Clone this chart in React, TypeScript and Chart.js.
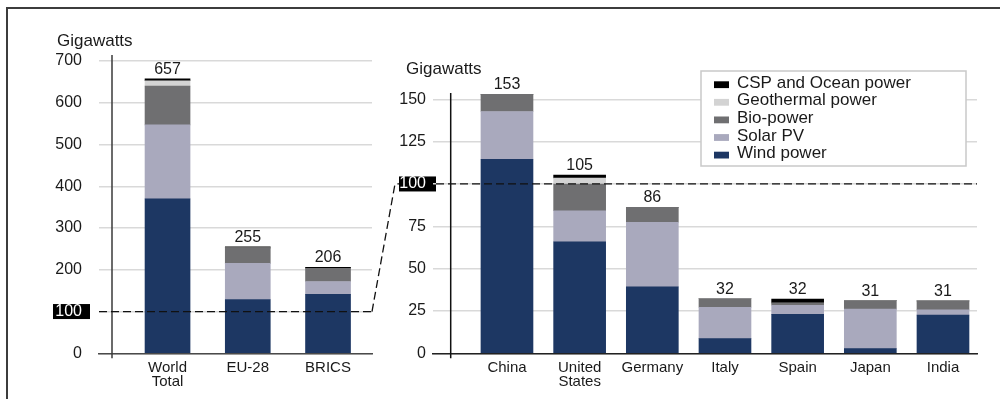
import React, { useEffect, useRef } from 'react';
import { Chart, registerables } from 'chart.js';

Chart.register(...registerables);

const FONT_FAMILY = "'Liberation Sans', Arial, Helvetica, sans-serif";
const TEXT_COLOR = '#1a1a1a';

// Capacity categories, bottom of each stack first
const seriesNames = ['Wind power', 'Solar PV', 'Bio-power', 'Geothermal power', 'CSP and Ocean power'];
const seriesColors = ['#1d3763', '#a9a9bd', '#6f6f71', '#d3d3d3', '#000000'];

// Left panel: world total and country groups (GW)
const groupLabels: (string | string[])[] = [['World', 'Total'], 'EU-28', 'BRICS'];
const groupWind = [370, 128.8, 141];
const groupSolar = [177, 86.7, 31];
const groupBio = [93, 36, 31.5];
const groupGeo = [12.8, 1, 0.1];
const groupCsp = [4.4, 2.5, 2.4];
const groupTicks = [0, 100, 200, 300, 400, 500, 600, 700];

// Right panel: top countries (GW)
const countryLabels: (string | string[])[] = ['China', ['United', 'States'], 'Germany', 'Italy', 'Spain', 'Japan', 'India'];
const countryWind = [114.6, 65.9, 39.2, 8.7, 23, 2.8, 22.5];
const countrySolar = [28.2, 18.3, 38.2, 18.5, 5.4, 23.3, 3.2];
const countryBio = [10.2, 15.8, 8.8, 5, 1.3, 5, 5.3];
const countryGeo = [0, 3.5, 0, 0, 0, 0, 0];
const countryCsp = [0, 1.7, 0, 0, 2.3, 0, 0];
const countryTicks = [0, 25, 50, 75, 100, 125, 150];

// Level shared by both panels, marked with a dashed line
const referenceLevel = 100;

type PanelLayout = {
  padTop: number;
  padRight: number;
  yWidth: number;
  xHeight: number;
  yMax: number;
  xMin: number;
  xMax: number;
  barThickness: number;
  tickPadding: number;
  axisOffset: number;
  axisTop: number;
  axisColor: string;
  baseColor: string;
  box: [number, number];
  dashFromBox: boolean;
  title: [number, number];
};

const leftLayout: PanelLayout = {
  padTop: 61,
  padRight: 628,
  yWidth: 99,
  xHeight: 45.7,
  yMax: 700,
  xMin: -0.854,
  xMax: 2.548,
  barThickness: 45,
  tickPadding: 17,
  axisOffset: 13,
  axisTop: 55,
  axisColor: '#3a3a3a',
  baseColor: '#4a4a4a',
  box: [53, 90],
  dashFromBox: false,
  title: [57, 41],
};

const rightLayout: PanelLayout = {
  padTop: 353.3 - 160 * (254 / 150),
  padRight: 23,
  yWidth: 433,
  xHeight: 45.7,
  yMax: 160,
  xMin: -1.018,
  xMax: 6.468,
  barThickness: 52,
  tickPadding: 7,
  axisOffset: 17.7,
  axisTop: 93,
  axisColor: '#111111',
  baseColor: '#222222',
  box: [399, 436],
  dashFromBox: true,
  title: [406, 69],
};

function makeDatasets(series: number[][], thickness: number) {
  return series.map((values, s) => ({
    label: seriesNames[s],
    data: values.map((y, i) => ({ x: i, y })),
    backgroundColor: seriesColors[s],
    borderWidth: 0,
    barThickness: thickness,
  }));
}

function panelPlugin(L: PanelLayout, labels: (string | string[])[], extra?: (chart: any, yRef: number) => void) {
  return {
    id: 'panelDecor',
    beforeDraw(chart: any) {
      const { ctx } = chart;
      const yRef = chart.scales.y.getPixelForValue(referenceLevel);
      ctx.save();
      ctx.fillStyle = '#000';
      ctx.fillRect(L.box[0], yRef - 7.5, L.box[1] - L.box[0], 15);
      ctx.restore();
    },
    afterDatasetsDraw(chart: any) {
      const { ctx, chartArea: a, scales } = chart;
      const x = scales.x;
      const y = scales.y;
      ctx.save();

      // vertical axis line
      ctx.strokeStyle = L.axisColor;
      ctx.lineWidth = 1.5;
      ctx.beginPath();
      ctx.moveTo(a.left + L.axisOffset, L.axisTop);
      ctx.lineTo(a.left + L.axisOffset, a.bottom + 5);
      ctx.stroke();

      // stack totals
      ctx.font = `16px ${FONT_FAMILY}`;
      ctx.fillStyle = TEXT_COLOR;
      ctx.textAlign = 'center';
      ctx.textBaseline = 'middle';
      labels.forEach((_, i) => {
        const total = chart.data.datasets.reduce((s: number, d: any) => s + d.data[i].y, 0);
        ctx.fillText(String(Math.round(total)), x.getPixelForValue(i), y.getPixelForValue(total) - 9.5);
      });

      // dashed reference line
      const yRef = y.getPixelForValue(referenceLevel);
      ctx.setLineDash([8, 4]);
      ctx.lineWidth = 1.3;
      ctx.strokeStyle = '#111';
      ctx.beginPath();
      ctx.moveTo(L.dashFromBox ? L.box[1] : a.left, yRef);
      ctx.lineTo(a.right, yRef);
      ctx.stroke();
      if (extra) extra(chart, yRef);
      ctx.setLineDash([]);

      // unit caption
      ctx.font = `17px ${FONT_FAMILY}`;
      ctx.fillStyle = TEXT_COLOR;
      ctx.textAlign = 'left';
      ctx.textBaseline = 'middle';
      ctx.fillText('Gigawatts', L.title[0], L.title[1]);
      ctx.restore();
    },
  };
}

const legendPlugin = {
  id: 'boxLegend',
  afterDraw(chart: any) {
    const { ctx } = chart;
    const items = [...chart.data.datasets].reverse();
    ctx.save();
    ctx.fillStyle = '#fff';
    ctx.fillRect(701, 71, 265, 95);
    ctx.strokeStyle = '#c9c9c9';
    ctx.lineWidth = 1.5;
    ctx.strokeRect(701, 71, 265, 95);
    ctx.font = `17px ${FONT_FAMILY}`;
    ctx.textAlign = 'left';
    ctx.textBaseline = 'middle';
    items.forEach((d: any, i: number) => {
      const cy = 84.7 + i * 17.6;
      ctx.fillStyle = d.backgroundColor;
      ctx.fillRect(714, cy - 3.4, 15, 6.8);
      ctx.fillStyle = TEXT_COLOR;
      ctx.fillText(d.label, 737, cy - 1.5);
    });
    ctx.restore();
  },
};

function makeConfig(L: PanelLayout, labels: (string | string[])[], series: number[][], ticks: number[], plugins: any[]): any {
  return {
    type: 'bar',
    data: { datasets: makeDatasets(series, L.barThickness) },
    plugins,
    options: {
      responsive: false,
      animation: false,
      devicePixelRatio: 1,
      events: [],
      layout: { padding: { top: L.padTop, right: L.padRight, left: 0, bottom: 0 } },
      plugins: { legend: { display: false }, tooltip: { enabled: false } },
      scales: {
        x: {
          type: 'linear',
          min: L.xMin,
          max: L.xMax,
          offset: false,
          stacked: true,
          grid: { display: false, drawTicks: false, offset: false },
          border: { display: true, color: L.baseColor, width: 1.5 },
          afterBuildTicks: (s: any) => {
            s.ticks = labels.map((_, i) => ({ value: i }));
          },
          afterFit: (s: any) => {
            s.height = L.xHeight;
          },
          ticks: {
            autoSkip: false,
            maxRotation: 0,
            minRotation: 0,
            padding: 7,
            color: TEXT_COLOR,
            font: { family: FONT_FAMILY, size: 15, lineHeight: 0.95 },
            callback: (v: number) => labels[Math.round(v)],
          },
        },
        y: {
          type: 'linear',
          min: 0,
          max: L.yMax,
          stacked: true,
          grid: { color: '#d9d9d9', lineWidth: 1.5, drawTicks: false },
          border: { display: false },
          afterBuildTicks: (s: any) => {
            s.ticks = ticks.map((v) => ({ value: v }));
          },
          afterFit: (s: any) => {
            s.width = L.yWidth;
          },
          ticks: {
            padding: L.tickPadding,
            color: (c: any) => (c.tick && c.tick.value === referenceLevel ? '#ffffff' : TEXT_COLOR),
            font: { family: FONT_FAMILY, size: 16 },
          },
        },
      },
    },
  };
}

export default function App() {
  const leftRef = useRef<HTMLCanvasElement>(null);
  const rightRef = useRef<HTMLCanvasElement>(null);

  useEffect(() => {
    if (!leftRef.current || !rightRef.current) return;
    Chart.defaults.font.family = FONT_FAMILY;

    const left = new Chart(
      leftRef.current,
      makeConfig(
        leftLayout,
        groupLabels,
        [groupWind, groupSolar, groupBio, groupGeo, groupCsp],
        groupTicks,
        [panelPlugin(leftLayout, groupLabels)]
      )
    );

    // connector from the left panel's reference level to the right panel's
    const connector = (chart: any, yRef: number) => {
      const { ctx } = chart;
      const yLeft = left.scales.y.getPixelForValue(referenceLevel);
      ctx.beginPath();
      ctx.moveTo(left.chartArea.right, yLeft);
      ctx.lineTo(395, yRef);
      ctx.lineTo(rightLayout.box[0], yRef);
      ctx.stroke();
    };

    const right = new Chart(
      rightRef.current,
      makeConfig(
        rightLayout,
        countryLabels,
        [countryWind, countrySolar, countryBio, countryGeo, countryCsp],
        countryTicks,
        [panelPlugin(rightLayout, countryLabels, connector), legendPlugin]
      )
    );

    return () => {
      right.destroy();
      left.destroy();
    };
  }, []);

  return (
    <div style={{ position: 'absolute', left: 0, top: 0, width: 1000, height: 399, background: '#fff', overflow: 'hidden' }}>
      <div
        style={{
          position: 'absolute',
          left: 6,
          top: 7,
          width: 1000,
          height: 400,
          borderTop: '2px solid #3c3c3c',
          borderLeft: '2px solid #3c3c3c',
        }}
      />
      <canvas ref={leftRef} width={1000} height={399} style={{ position: 'absolute', left: 0, top: 0 }} />
      <canvas ref={rightRef} width={1000} height={399} style={{ position: 'absolute', left: 0, top: 0 }} />
    </div>
  );
}
